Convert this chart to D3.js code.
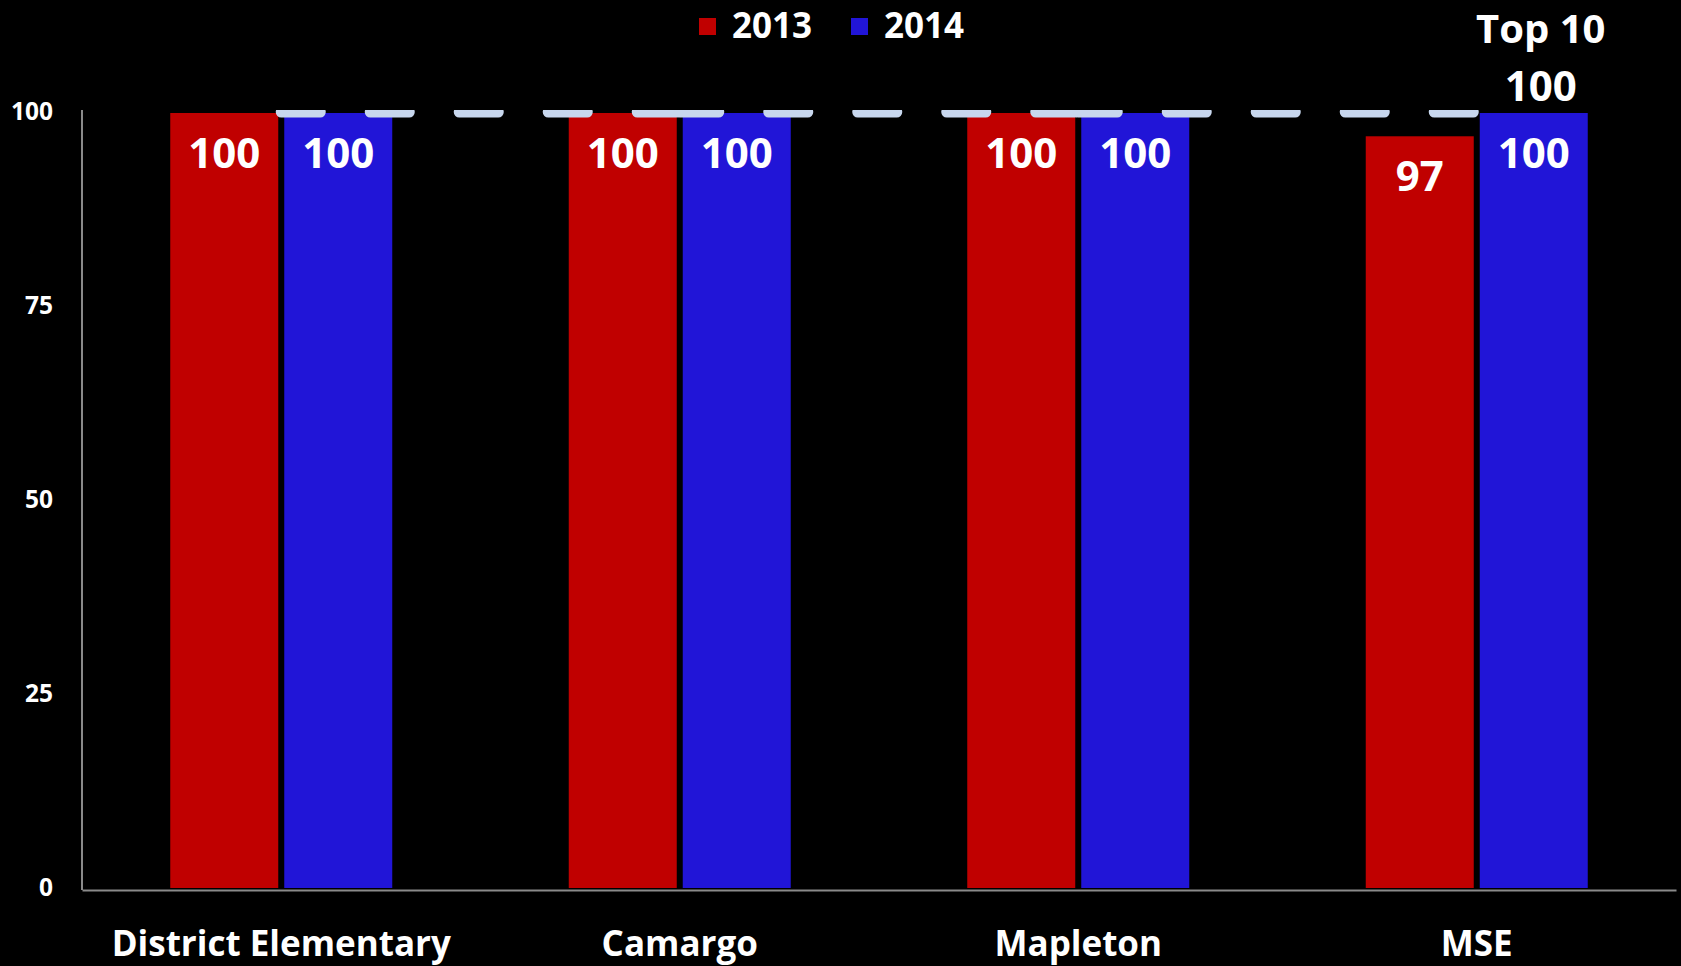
<!DOCTYPE html>
<html>
<head>
<meta charset="utf-8">
<script src="https://cdnjs.cloudflare.com/ajax/libs/d3/7.8.5/d3.min.js"></script>
<style>
  html, body { margin: 0; padding: 0; background: #000; }
  svg text { font-family: "Open Sans", Lato, sans-serif; font-weight: bold; fill: #fff; }
</style>
</head>
<body>
<svg id="chart" width="1681" height="966"></svg>
<script>
// data
var schools = ["District Elementary", "Camargo", "Mapleton", "MSE"];
var years = ["2013", "2014"];
var values2013 = [100, 100, 100, 97];
var values2014 = [100, 100, 100, 100];
var top10 = [100, 100, 100, 100];
var yTicks = [0, 25, 50, 75, 100];

var COLOR_2013 = "#c00000";
var COLOR_2014 = "#2115d7";
var COLOR_TOP = "#c8d7ee";

var W = 1681, H = 966;
var plotLeft = 82, plotRight = 1676, plotTop = 110, plotBottom = 888;

var svg = d3.select("#chart");
svg.append("rect").attr("width", W).attr("height", H).attr("fill", "#000");

var x = d3.scaleBand().domain(schools).range([plotLeft, plotRight]).paddingInner(0).paddingOuter(0);
var y = d3.scaleLinear().domain([0, 100]).range([plotBottom, 112]);
var bw = 108, gap = 6;

// bars
var series = [values2013, values2014];
var colors = [COLOR_2013, COLOR_2014];
series.forEach(function (vals, s) {
    var g = svg.append("g").attr("class", "series" + s);
    g.selectAll("rect").data(vals).join("rect")
        .attr("x", function (d, i) {
            var c = x(schools[i]) + x.bandwidth() / 2;
            return s === 0 ? c - gap / 2 - bw : c + gap / 2;
        })
        .attr("y", function (d) { return y(d) + 1; })
        .attr("width", bw)
        .attr("height", function (d) { return plotBottom - y(d) - 1; })
        .attr("fill", colors[s]);

    g.selectAll("text").data(vals).join("text")
        .attr("x", function (d, i) {
            var c = x(schools[i]) + x.bandwidth() / 2;
            return s === 0 ? c - gap / 2 - bw / 2 : c + gap / 2 + bw / 2;
        })
        .attr("y", function (d) { return y(d) + 56; })
        .attr("text-anchor", "middle")
        .style("font-size", "42px")
        .text(function (d) { return d; });
});

// axes
var yAxis = svg.append("g").attr("transform", "translate(" + plotLeft + ",0)")
    .call(d3.axisLeft(y).tickValues(yTicks).tickSize(0).tickPadding(29));
yAxis.select(".domain").attr("stroke", "#8a8a8a").attr("stroke-width", 2)
    .attr("d", "M0," + plotTop + "V" + (plotBottom + 2));
yAxis.selectAll("text").style("font-size", "24.5px").attr("fill", "#fff");

var xAxis = svg.append("g").attr("transform", "translate(0," + (plotBottom + 2) + ")")
    .call(d3.axisBottom(x).tickSize(0).tickPadding(41));
xAxis.select(".domain").attr("stroke", "#8a8a8a").attr("stroke-width", 2);
xAxis.selectAll("text").style("font-size", "35px").attr("fill", "#fff");

// Top 10 dashed line - the dash pattern restarts on every segment
svg.append("clipPath").attr("id", "plotclip")
    .append("rect").attr("x", 0).attr("y", plotTop).attr("width", W).attr("height", plotBottom - plotTop);
var line = d3.line()
    .x(function (d) { return x(d.s) + x.bandwidth() / 2; })
    .y(function (d) { return y(d.v); });
var segs = d3.pairs(top10.map(function (v, i) { return { s: schools[i], v: v }; }));
svg.append("g").attr("clip-path", "url(#plotclip)")
    .selectAll("path").data(segs).join("path")
    .attr("d", line)
    .attr("fill", "none")
    .attr("stroke", COLOR_TOP)
    .attr("stroke-width", 11)
    .attr("stroke-linecap", "round")
    .attr("stroke-dasharray", "39 50");

// label of the last Top 10 point
var last = top10.length - 1;
var lx = x(schools[last]) + x.bandwidth() / 2 + 64;
svg.append("text").attr("x", lx).attr("y", 43).attr("text-anchor", "middle")
    .style("font-size", "40px").text("Top 10");
svg.append("text").attr("x", lx).attr("y", 101).attr("text-anchor", "middle")
    .style("font-size", "42px").text(top10[last]);

// legend
var legend = svg.append("g").attr("class", "legend");
var legX = [699, 851];
years.forEach(function (yr, i) {
    legend.append("rect").attr("x", legX[i]).attr("y", 18).attr("width", 17).attr("height", 17)
        .attr("fill", colors[i]);
    legend.append("text").attr("x", legX[i] + 33).attr("y", 38)
        .style("font-size", "35px").text(yr);
});
</script>
</body>
</html>
